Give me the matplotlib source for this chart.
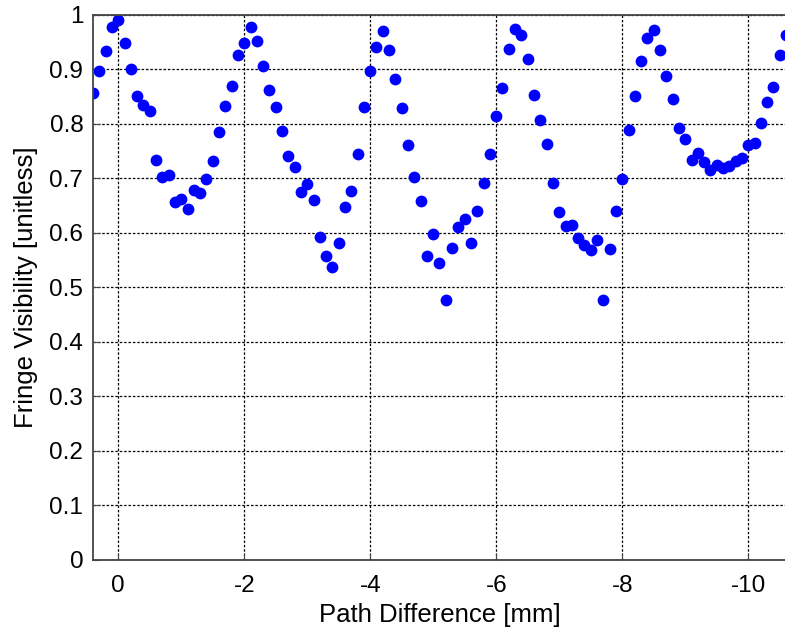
import matplotlib
matplotlib.use("Agg")
import matplotlib.pyplot as plt
import numpy as np

path_start = 0.4
path_step = -0.1
visibility = [
    0.857, 0.896, 0.934, 0.977, 0.990, 0.949, 0.901, 0.850, 0.835, 0.823,
    0.734, 0.703, 0.706, 0.656, 0.662, 0.643, 0.678, 0.673, 0.698, 0.732,
    0.785, 0.833, 0.870, 0.926, 0.949, 0.977, 0.951, 0.906, 0.861, 0.830,
    0.787, 0.741, 0.721, 0.675, 0.689, 0.661, 0.592, 0.557, 0.537, 0.582,
    0.648, 0.676, 0.744, 0.830, 0.896, 0.941, 0.971, 0.936, 0.883, 0.828,
    0.761, 0.703, 0.658, 0.557, 0.598, 0.544, 0.476, 0.572, 0.610, 0.625,
    0.582, 0.640, 0.691, 0.744, 0.815, 0.865, 0.938, 0.974, 0.962, 0.918,
    0.853, 0.807, 0.762, 0.691, 0.638, 0.613, 0.615, 0.590, 0.578, 0.568,
    0.587, 0.476, 0.570, 0.640, 0.698, 0.789, 0.850, 0.916, 0.958, 0.972,
    0.936, 0.888, 0.845, 0.792, 0.772, 0.734, 0.747, 0.729, 0.716, 0.725,
    0.719, 0.722, 0.732, 0.737, 0.761, 0.764, 0.802, 0.840, 0.868, 0.926,
    0.962,
]
path_diff = [round(path_start + path_step * i, 2) for i in range(len(visibility))]

xticks = [0, -2, -4, -6, -8, -10]
xticklabels = ["0", "-2", "-4", "-6", "-8", "-10"]
yticks = [0, 0.1, 0.2, 0.3, 0.4, 0.5, 0.6, 0.7, 0.8, 0.9, 1]
yticklabels = ["0", "0.1", "0.2", "0.3", "0.4", "0.5", "0.6", "0.7", "0.8", "0.9", "1"]

plt.rcParams["font.family"] = ["Liberation Sans", "DejaVu Sans"]

fig = plt.figure(figsize=(7.85, 6.29), dpi=100)
ax = fig.add_axes([93 / 785, (629 - 560) / 629, 693 / 785, (560 - 14.7) / 629])
ax.plot(path_diff, visibility, "o", color="#0000ff", markersize=8.5, markeredgewidth=0, clip_on=True)
ax.set_xlim(0.4, -10.6)
ax.set_ylim(0, 1)
ax.set_xticks(xticks)
ax.set_xticklabels(xticklabels)
ax.set_yticks(yticks)
ax.set_yticklabels(yticklabels)
ax.grid(True, color="black", linestyle=(0, (2, 1.5)), linewidth=0.9)
ax.set_axisbelow(True)
ax.tick_params(direction="in", length=5, labelsize=17.5, color="#444444")
ax.tick_params(axis="x", pad=11)
ax.tick_params(axis="y", pad=7)
for s in ax.spines.values():
    s.set_color("#444444")
    s.set_linewidth(1.3)
ax.spines["right"].set_visible(False)
ax.set_xlabel("Path Difference [mm]", fontsize=18.5, labelpad=4)
ax.set_ylabel("Fringe Visibility [unitless]", fontsize=18.5, labelpad=8)
fig.savefig("out.png", dpi=100)
